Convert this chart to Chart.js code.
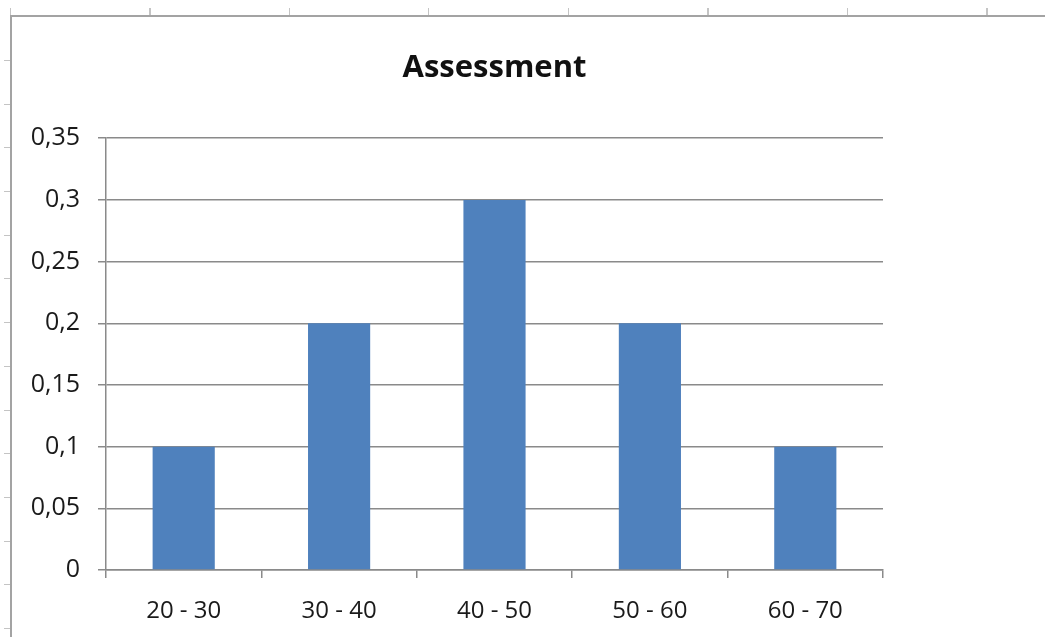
<!DOCTYPE html>
<html>
<head>
<meta charset="utf-8">
<script src="https://cdn.jsdelivr.net/npm/chart.js@4.4.1/dist/chart.umd.min.js"></script>
<style>
  html, body { margin: 0; padding: 0; background: #fff; }
  #wrap { position: relative; width: 1045px; height: 637px; overflow: hidden; }
  /* sheet frame behind the chart */
  #sheet {
    position: absolute; left: 10px; top: 15px; right: -2px; bottom: -2px;
    border-top: 2px solid #a3a3a3; border-left: 2px solid #a3a3a3;
  }
  #topTicks {
    position: absolute; left: 10px; top: 8px; width: 1035px; height: 7px;
    background: repeating-linear-gradient(to right, #c4c4c4 0 1px, transparent 1px 139.5px);
  }
  #leftTicks {
    position: absolute; left: 4px; top: 60px; width: 6px; height: 577px;
    background: repeating-linear-gradient(to bottom, #c4c4c4 0 1px, transparent 1px 43.7px);
  }
  canvas { position: absolute; left: 0; top: 0; }
</style>
</head>
<body>
<div id="wrap">
  <div id="topTicks"></div>
  <div id="leftTicks"></div>
  <div id="sheet"></div>
  <canvas id="chart" width="1045" height="637"></canvas>
</div>
<script>
const categories = ['20 - 30', '30 - 40', '40 - 50', '50 - 60', '60 - 70'];
const values = [0.1, 0.2, 0.3, 0.2, 0.1];
const yTickLabels = ['0', '0,05', '0,1', '0,15', '0,2', '0,25', '0,3', '0,35'];

const axisGray = '#8a8a8a';
const textColor = '#1a1a1a';

// Chart banao
const ctx = document.getElementById('chart').getContext('2d');
new Chart(ctx, {
    type: 'bar',
    data: {
        labels: categories,
        datasets: [{
            data: values,
            backgroundColor: '#4f81bd',
            borderWidth: 0,
            barPercentage: 0.4,
            categoryPercentage: 1
        }]
    },
    options: {
        responsive: false,
        animation: false,
        devicePixelRatio: 1,
        layout: { padding: { left: 0, right: 162, top: 0, bottom: 0 } },
        plugins: {
            legend: { display: false },
            tooltip: { enabled: false },
            title: {
                display: true,
                text: 'Assessment',
                fullSize: false,
                color: '#111',
                font: { family: 'Open Sans', size: 31, weight: 'bold' },
                padding: { top: 50, bottom: 51 }
            }
        },
        scales: {
            x: {
                afterFit: (scale) => { scale.height = 67; },
                grid: {
                    drawOnChartArea: false,
                    drawTicks: true,
                    tickLength: 8,
                    color: axisGray,
                    lineWidth: 1.5
                },
                border: { display: true, color: axisGray, width: 1.5 },
                ticks: {
                    color: textColor,
                    font: { family: 'Open Sans', size: 24 },
                    padding: 19,
                    maxRotation: 0
                }
            },
            y: {
                min: 0,
                max: 0.35,
                afterFit: (scale) => { scale.width = 106; },
                grid: {
                    drawTicks: true,
                    tickLength: 8,
                    color: axisGray,
                    lineWidth: 1.5
                },
                border: { display: true, color: axisGray, width: 1.5 },
                ticks: {
                    stepSize: 0.05,
                    color: textColor,
                    font: { family: 'Open Sans', size: 25 },
                    padding: 18,
                    callback: (value, index) => yTickLabels[index]
                }
            }
        }
    }
});
</script>
</body>
</html>
